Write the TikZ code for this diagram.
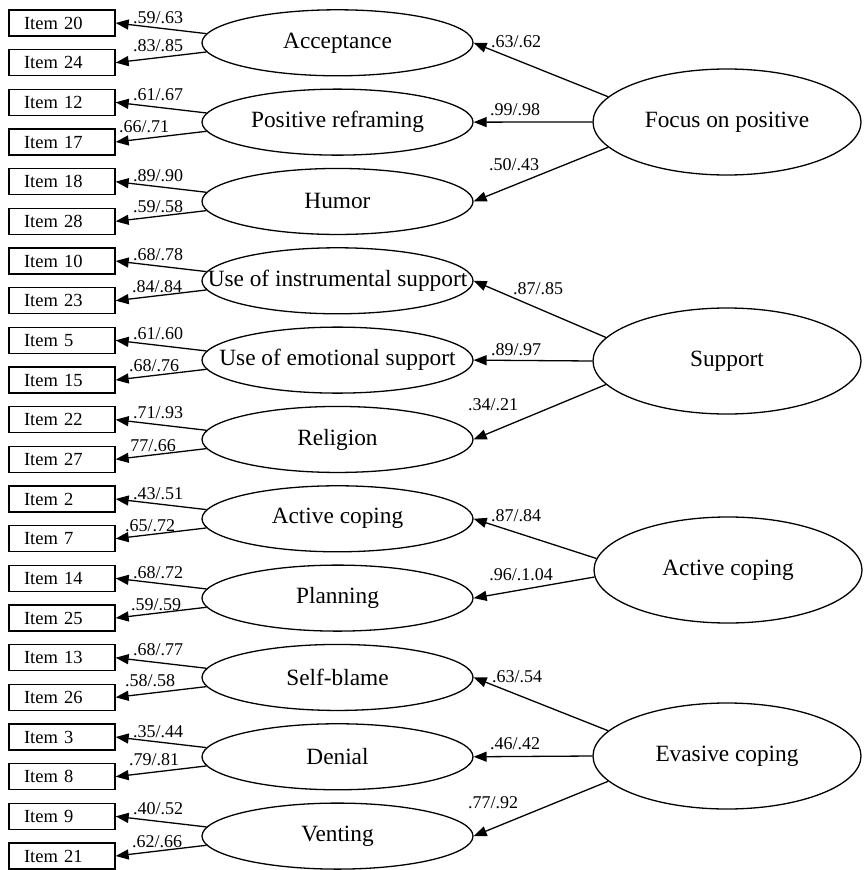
\documentclass[tikz,border=0pt]{standalone}
\usepackage{fontspec}
\setmainfont{Liberation Serif}
\usetikzlibrary{arrows.meta,shapes.geometric}
\begin{document}
\begin{tikzpicture}[x=1pt,y=-1pt,
  item/.style={draw, line width=1.3pt, minimum width=106pt, minimum height=26pt, inner ysep=0pt, inner xsep=15pt, text width=76pt, align=left, font=\fontsize{18.5}{20}\selectfont},
  ftxt/.style={font=\fontsize{23.3}{25}\selectfont, inner sep=0pt},
  fac/.style={draw, ellipse, line width=1.3pt, minimum width=271pt, minimum height=66pt, inner sep=0pt, label={[ftxt]center:{#1}}},
  big/.style={draw, ellipse, line width=1.3pt, minimum width=268pt, minimum height=106pt, inner sep=0pt, label={[ftxt]center:{#1}}},
  lab/.style={font=\fontsize{18}{19}\selectfont, inner sep=0pt},
  ar/.style={line width=1.3pt, -{Triangle[length=13pt,width=10pt]}}
]
\useasboundingbox (0,0) rectangle (863,870);

% observed items
\foreach \n [count=\i from 0] in {20,24,12,17,18,28,10,23,5,15,22,27,2,7,14,25,13,26,3,8,9,21}
  \node[item] (i\i) at (62, 23+39.667*\i) {Item \n};

% first-order factors
\foreach \t [count=\k from 0] in {Acceptance,Positive reframing,Humor,Use of instrumental support,Use of emotional support,Religion,Active coping,Planning,Self-blame,Denial,Venting}
  \node[fac=\t] (f\k) at (337.5, 42.8+79.33*\k) {};

% second-order factors
\node[big={Focus on positive}] (g1) at (727,122) {};
\node[big={Support}] (g2) at (727,361) {};
\node[big={Active coping}] (g3) at (728,570) {};
\node[big={Evasive coping}] (g4) at (727,756) {};

% loadings factor -> items
\foreach \k in {0,...,10} {
  \pgfmathtruncatemacro\a{2*\k}
  \pgfmathtruncatemacro\b{2*\k+1}
  \draw[ar] (f\k.176) -- (i\a.east);
  \draw[ar] (f\k.184) -- (i\b.east);
}

% second-order loadings
\draw[ar] (g1.168) -- (f0.east);
\draw[ar] (g1.west) -- (f1.east);
\draw[ar] (g1.192) -- (f2.east);
\draw[ar] (g2.169) -- (f3.east);
\draw[ar] (g2.west) -- (f4.east);
\draw[ar] (g2.191) -- (f5.east);
\draw[ar] (g3.175) -- (f6.east);
\draw[ar] (g3.183) -- (f7.east);
\draw[ar] (g4.168) -- (f8.east);
\draw[ar] (g4.west) -- (f9.east);
\draw[ar] (g4.192) -- (f10.east);

% item loading labels
\node[lab] (l0) at (158,18) {.59/.63};
\node[lab] (l1) at (158,46) {.83/.85};
\node[lab] (l2) at (158,95) {.61/.67};
\node[lab] (l3) at (144,127) {.66/.71};
\node[lab] (l4) at (158,176) {.89/.90};
\node[lab] (l5) at (158,207) {.59/.58};
\node[lab] (l6) at (158,255) {.68/.78};
\node[lab] (l7) at (157,287) {.84/.84};
\node[lab] (l8) at (158,334) {.61/.60};
\node[lab] (l9) at (154,366) {.68/.76};
\node[lab] (l10) at (158,413) {.71/.93};
\node[lab] (l11) at (153,446) {77/.66};
\node[lab] (l12) at (158,494) {.43/.51};
\node[lab] (l13) at (150,526) {.65/.72};
\node[lab] (l14) at (158,573) {.68/.72};
\node[lab] (l15) at (156,605) {.59/.59};
\node[lab] (l16) at (158,650) {.68/.77};
\node[lab] (l17) at (150,681) {.58/.58};
\node[lab] (l18) at (158,732) {.35/.44};
\node[lab] (l19) at (154,760) {.79/.81};
\node[lab] (l20) at (158,809) {.40/.52};
\node[lab] (l21) at (157,842) {.62/.66};

% second-order loading labels
\node[lab] (m0) at (516,42) {.63/.62};
\node[lab] (m1) at (515,110) {.99/.98};
\node[lab] (m2) at (514,165) {.50/.43};
\node[lab] (m3) at (538,289) {.87/.85};
\node[lab] (m4) at (516,350) {.89/.97};
\node[lab] (m5) at (493,405) {.34/.21};
\node[lab] (m6) at (516,516) {.87/.84};
\node[lab] (m7) at (521,575) {.96/.1.04};
\node[lab] (m8) at (517,677) {.63/.54};
\node[lab] (m9) at (515,744) {.46/.42};
\node[lab] (m10) at (493,803) {.77/.92};
\end{tikzpicture}
\end{document}
